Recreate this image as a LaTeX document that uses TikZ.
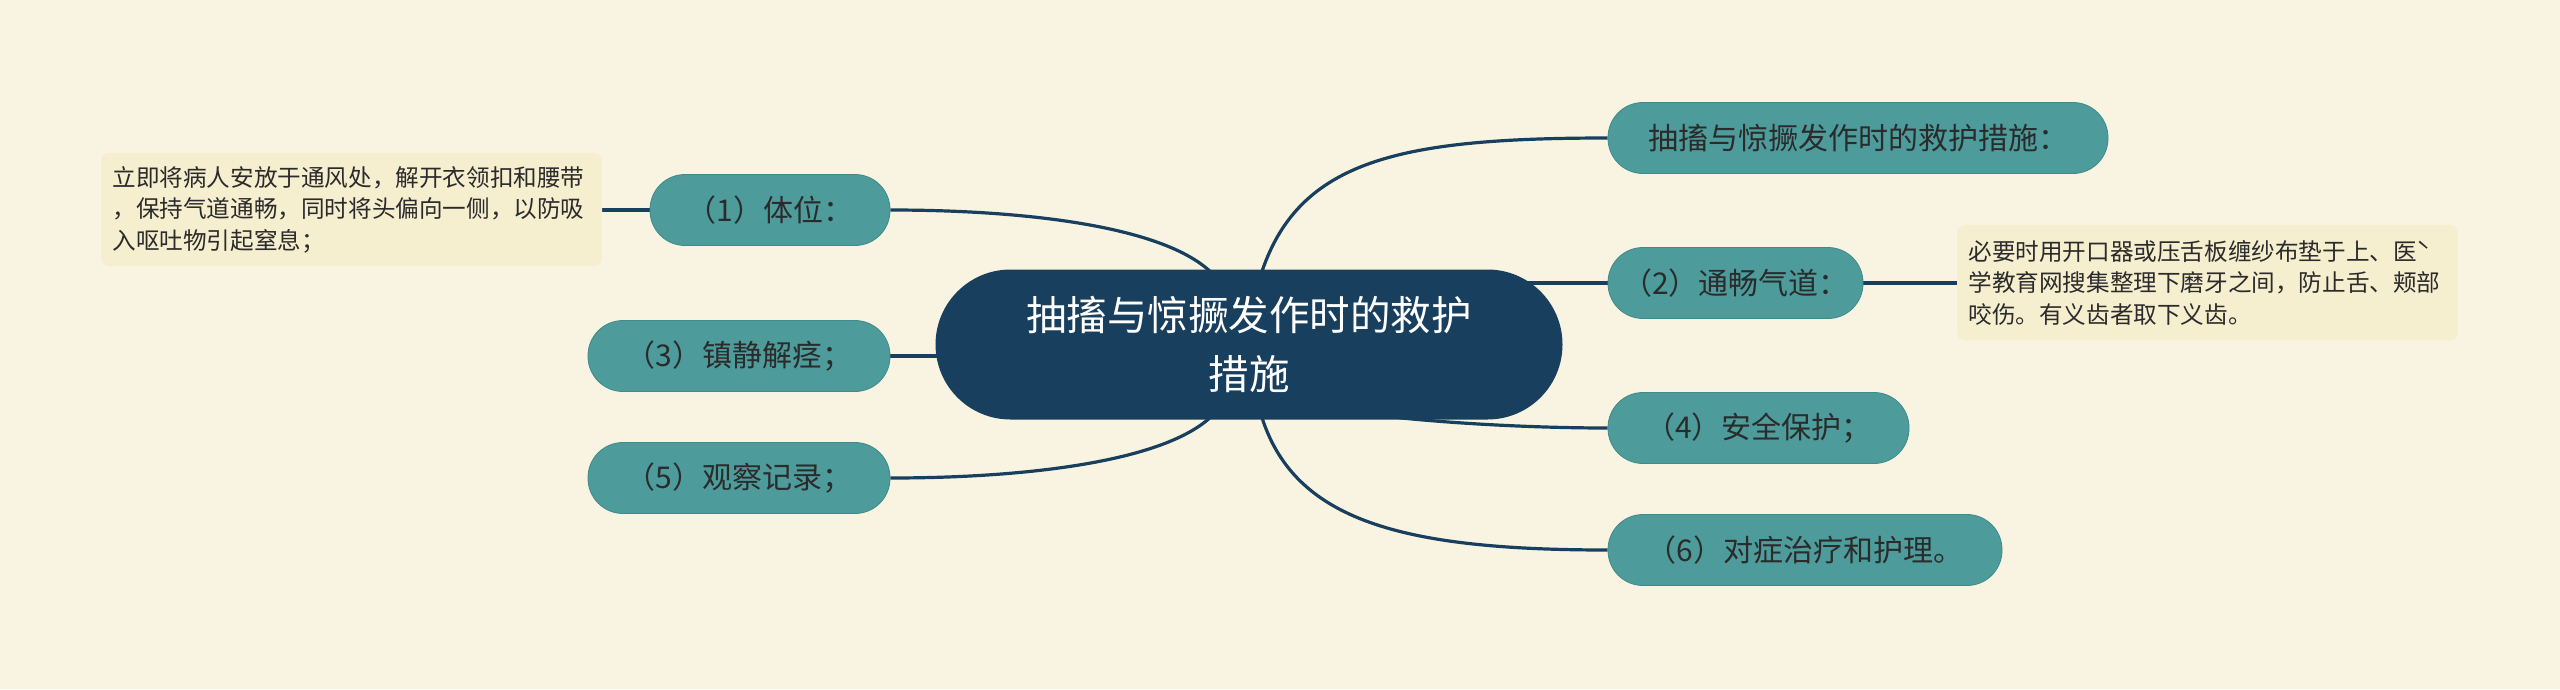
\documentclass[tikz,border=0pt]{standalone}
\usepackage{fontspec}
\setmainfont{Noto Sans CJK SC}
\usetikzlibrary{backgrounds,calc}
\definecolor{bgc}{HTML}{F9F4E1}
\definecolor{navy}{HTML}{183F5E}
\definecolor{teal}{HTML}{4E9B9B}
\definecolor{tealb}{HTML}{3F8A8A}
\definecolor{notef}{HTML}{F5EECF}
\definecolor{txt}{HTML}{2B2B2B}
\tikzset{
  rootbox/.style={fill=navy, text=white, rounded corners=75pt, minimum width=627pt, minimum height=150pt, align=center, inner sep=0pt, font=\fontsize{40.5}{59}\selectfont},
  childbox/.style={fill=teal, draw=tealb, line width=0.8pt, text=txt, rounded corners=35pt, minimum height=71pt, inner sep=0pt, font=\fontsize{30}{36}\selectfont},
  notebox/.style={fill=notef, text=txt, rounded corners=8pt, align=left, text width=478pt, inner xsep=11.5pt, inner ysep=0pt, font=\fontsize{23.6}{31.5}\selectfont},
  conn/.style={draw=navy, line width=3.2pt}
}
\begin{document}
\begin{tikzpicture}[x=1pt,y=-1pt]
\useasboundingbox (0,0) rectangle (2560,689);
\node[rootbox] (c) at (1249,344.5) {抽搐与惊撅发作时的救护\\措施};
\node[childbox, minimum width=500pt] (t) at (1858,138) {抽搐与惊撅发作时的救护措施：};
\node[childbox, minimum width=255pt] (n2) at (1735.5,283) {（2）通畅气道：};
\node[childbox, minimum width=301pt] (n4) at (1758.5,428) {（4）安全保护；};
\node[childbox, minimum width=394pt] (n6) at (1805,550) {（6）对症治疗和护理。};
\node[childbox, minimum width=240pt] (n1) at (770,210) {（1）体位：};
\node[childbox, minimum width=302pt] (n3) at (739,356) {（3）镇静解痉；};
\node[childbox, minimum width=302pt] (n5) at (739,478) {（5）观察记录；};
\node[notebox, minimum height=113pt] (L) at (351.5,209.5) {立即将病人安放于通风处，解开衣领扣和腰带\\，保持气道通畅，同时将头偏向一侧，以防吸\\入呕吐物引起窒息；};
\node[notebox, minimum height=115pt] (R) at (2207.5,282.5) {必要时用开口器或压舌板缠纱布垫于上、医ˋ\\学教育网搜集整理下磨牙之间，防止舌、颊部\\咬伤。有义齿者取下义齿。};
\begin{pgfonlayer}{background}
\fill[bgc] (0,0) rectangle (2560,689);
\draw[conn] ($(c.north)+(13,2)$) .. controls (1300,160) and (1400,138) .. (t.west);
\draw[conn] (c.center |- n2.west) -- (n2.west);
\draw[conn] ($(c.south)+(150,-2)$) .. controls (1460,424) and (1540,428) .. (n4.west);
\draw[conn] ($(c.south)+(13,-2)$) .. controls (1295,520) and (1400,550) .. (n6.west);
\draw[conn] ($(c.north)+(-39,2)$) .. controls (1160,225) and (1020,210) .. (n1.east);
\draw[conn] (c.center |- n3.east) -- (n3.east);
\draw[conn] ($(c.south)+(-39,-2)$) .. controls (1160,463) and (1020,478) .. (n5.east);
\draw[conn] (n1.west) -- (n1.west -| L.east);
\draw[conn] (n2.east) -- (n2.east -| R.west);
\end{pgfonlayer}
\end{tikzpicture}
\end{document}
